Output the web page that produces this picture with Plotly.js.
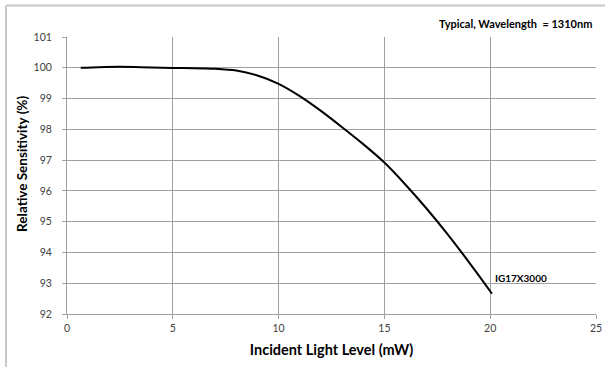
<!DOCTYPE html>
<html>
<head>
<meta charset="utf-8">
<script src="https://cdn.plot.ly/plotly-3.0.1.min.js"></script>
<style>html,body{margin:0;padding:0;background:#fff;}#chart{width:605px;height:367px;}</style>
</head>
<body>
<div id="chart"></div>
<script>
// Incident light level (mW)
const lightLevel = [0.65, 1.5, 2.5, 3.5, 4.5, 5.5, 6.5, 7, 8, 9, 10, 11, 12, 13, 14, 15, 16, 17, 18, 19, 20, 20.08];
// Relative sensitivity (%)
const sensitivity = [100.0, 100.02, 100.03, 100.02, 100.0, 99.99, 99.98, 99.97, 99.91, 99.75, 99.48, 99.08, 98.6, 98.07, 97.52, 96.92, 96.2, 95.42, 94.58, 93.68, 92.74, 92.66];
const xTicks = [0, 5, 10, 15, 20, 25];
const yTicks = [92, 93, 94, 95, 96, 97, 98, 99, 100, 101];
const seriesName = "IG17X3000";
const noteText = "Typical, Wavelength  = 1310nm";
const xTitle = "Incident Light Level (mW)";
const yTitle = "Relative Sensitivity (%)";

const fontFam = "Lato, 'Open Sans', sans-serif";

const trace = {
  x: lightLevel, y: sensitivity, type: "scatter", mode: "lines",
  line: {color: "#000000", width: 2, shape: "spline", smoothing: 0.8},
  name: seriesName, hoverinfo: "skip"
};

const layout = {
  width: 605, height: 367,
  margin: {l: 67, r: 9, t: 37, b: 53},
  paper_bgcolor: "#ffffff", plot_bgcolor: "#ffffff",
  showlegend: false,
  font: {family: fontFam, color: "#404040", size: 11},
  xaxis: {
    range: [0, 25], tickvals: xTicks, ticktext: xTicks.map(String),
    showgrid: true, gridcolor: "#a0a0a0", gridwidth: 1,
    showline: true, linecolor: "#a0a0a0", linewidth: 1, mirror: false,
    zeroline: false, ticks: "outside", ticklen: 4, tickcolor: "#a0a0a0",
    tickfont: {family: fontFam, size: 10.5, color: "#404040"},
    title: {text: "<b>" + xTitle + "</b>", font: {family: fontFam, size: 14.5, color: "#000000"}, standoff: 12}
  },
  yaxis: {
    range: [92, 101], tickvals: yTicks, ticktext: yTicks.map(String),
    showgrid: true, gridcolor: "#a0a0a0", gridwidth: 1,
    showline: true, linecolor: "#a0a0a0", linewidth: 1,
    zeroline: false, ticks: "outside", ticklen: 4, tickcolor: "#a0a0a0",
    ticklabelstandoff: 8,
    tickfont: {family: fontFam, size: 10.5, color: "#404040"}
  },
  shapes: [
    {type: "line", xref: "paper", yref: "paper", x0: -0.1153, x1: 1.1, y0: 1.1137, y1: 1.1137, line: {color: "#c8c8c8", width: 2}},
    {type: "line", xref: "paper", yref: "paper", x0: -0.1153, x1: -0.1153, y0: -0.3, y1: 1.1137, line: {color: "#c8c8c8", width: 2}}
  ],
  annotations: [
    {text: "<b>" + yTitle + "</b>", xref: "paper", yref: "paper", x: -0.085, y: 0.542, xanchor: "center", yanchor: "middle", textangle: -90, showarrow: false, font: {family: fontFam, size: 13.5, color: "#000000"}},
    {text: "<b>" + noteText + "</b>", xref: "paper", yref: "paper", x: 0.996, y: 1.05, xanchor: "right", yanchor: "middle", showarrow: false, font: {family: fontFam, size: 11, color: "#000000"}},
    {text: "<b>" + seriesName + "</b>", xref: "x", yref: "y", x: lightLevel[lightLevel.length - 1] + 0.05, y: 93.17, xanchor: "left", yanchor: "middle", showarrow: false, font: {family: fontFam, size: 10, color: "#000000"}}
  ]
};

Plotly.newPlot("chart", [trace], layout, {displayModeBar: false, staticPlot: true});
</script>
</body>
</html>
